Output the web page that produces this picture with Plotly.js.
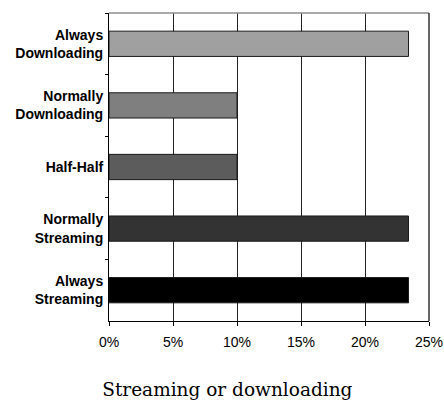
<!DOCTYPE html>
<html>
<head>
<meta charset="utf-8">
<script src="https://cdn.plot.ly/plotly-3.0.1.min.js"></script>
<style>
  html, body { margin: 0; padding: 0; background: #ffffff; }
  #chart { width: 444px; height: 400px; }
</style>
</head>
<body>
<div id="chart"></div>
<script>
// Share of users by streaming / downloading habit
const categories = [
  "Always<br>Downloading",
  "Normally<br>Downloading",
  "Half-Half",
  "Normally<br>Streaming",
  "Always<br>Streaming"
];
const shares = [23.4, 10, 10, 23.4, 23.4];
const barColors = ["#a0a0a0", "#7f7f7f", "#5c5c5c", "#333333", "#000000"];
const xTickValues = [0, 5, 10, 15, 20, 25];
const xTickLabels = ["0%", "5%", "10%", "15%", "20%", "25%"];

const trace = {
  type: "bar",
  orientation: "h",
  x: shares,
  y: categories,
  width: 0.41,
  marker: {
    color: barColors,
    line: { color: "#1a1a1a", width: 1 }
  },
  hoverinfo: "skip"
};

const layout = {
  width: 444,
  height: 400,
  margin: { l: 109, r: 15, t: 13, b: 79 },
  paper_bgcolor: "#ffffff",
  plot_bgcolor: "#ffffff",
  showlegend: false,
  title: {
    text: "Streaming or downloading",
    font: { family: "DejaVu Serif, serif", size: 18.5, color: "#000000" },
    xref: "container",
    yref: "container",
    x: 0.512,
    xanchor: "center",
    y: 0.026,
    yanchor: "middle"
  },
  xaxis: {
    range: [0, 25],
    tickvals: xTickValues,
    ticktext: xTickLabels,
    ticks: "outside",
    ticklen: 4,
    tickcolor: "#000000",
    ticklabelstandoff: 4,
    showline: true,
    linecolor: "#000000",
    linewidth: 1,
    showgrid: true,
    gridcolor: "#222222",
    gridwidth: 1,
    zeroline: false,
    tickfont: { family: "Liberation Sans, Arial, sans-serif", size: 14, color: "#000000" },
    fixedrange: true
  },
  yaxis: {
    type: "category",
    autorange: "reversed",
    tickson: "boundaries",
    ticks: "outside",
    ticklen: 3,
    tickcolor: "#000000",
    ticklabelstandoff: 2,
    showline: true,
    linecolor: "#000000",
    linewidth: 1,
    showgrid: false,
    zeroline: false,
    tickfont: { family: "Liberation Sans, Arial, sans-serif", size: 14, color: "#000000", weight: "bold" },
    fixedrange: true
  },
  // plot-area frame: light top edge, dark right edge
  shapes: [
    { type: "line", xref: "paper", yref: "paper", x0: 0, x1: 1, y0: 1, y1: 1,
      line: { color: "#8c8c8c", width: 1.5 }, layer: "above" },
    { type: "line", xref: "paper", yref: "paper", x0: 1, x1: 1, y0: 0, y1: 1,
      line: { color: "#333333", width: 1.5 }, layer: "above" }
  ]
};

Plotly.newPlot("chart", [trace], layout, { displayModeBar: false, staticPlot: true });
</script>
</body>
</html>
